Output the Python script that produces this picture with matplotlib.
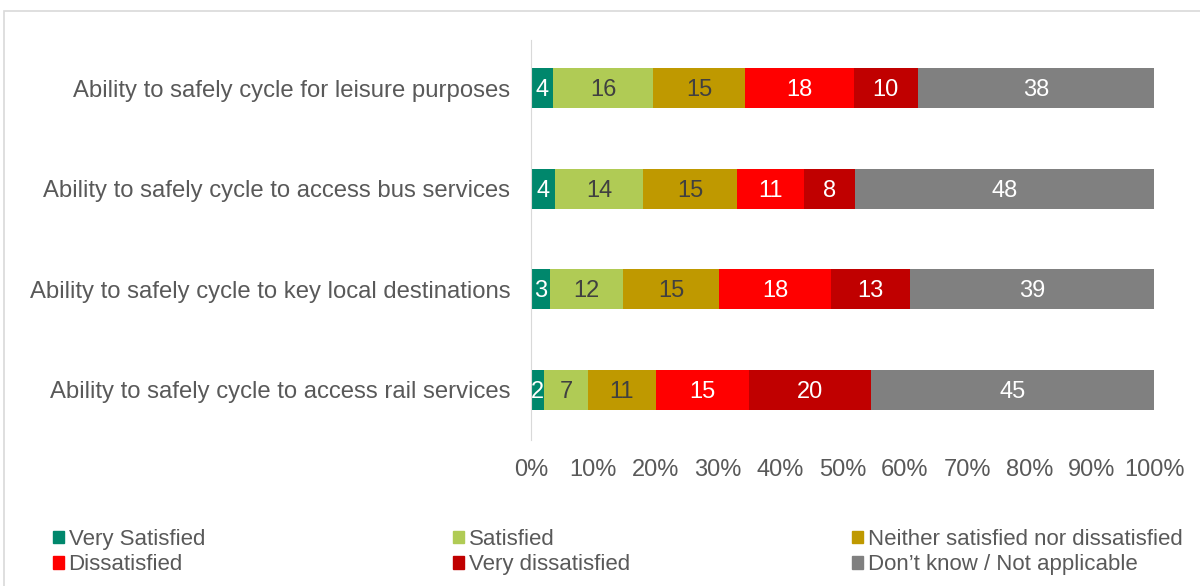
import matplotlib.pyplot as plt
from matplotlib.patches import Rectangle, Patch

plt.rcParams['font.family'] = ['Liberation Sans', 'DejaVu Sans']

categories = ['Ability to safely cycle for leisure purposes',
              'Ability to safely cycle to access bus services',
              'Ability to safely cycle to key local destinations',
              'Ability to safely cycle to access rail services']

series = ['Very Satisfied', 'Satisfied', 'Neither satisfied nor dissatisfied',
          'Dissatisfied', 'Very dissatisfied', 'Don\u2019t know / Not applicable']

# percent per row
very_satisfied = [3.5, 3.9, 3.0, 2.1]
satisfied = [16.1, 14.1, 11.8, 7.0]
neither = [14.7, 15.1, 15.4, 11.0]
dissatisfied = [17.5, 10.7, 18.0, 14.9]
very_dissatisfied = [10.3, 8.2, 12.6, 19.6]
dont_know = [37.9, 48.0, 39.2, 45.4]

colors = ['#00876C', '#B0CB55', '#BF9900', '#FF0000', '#C00000', '#808080']
text_colors = ['white', '#404040', '#404040', 'white', 'white', 'white']

fig = plt.figure(figsize=(12, 5.86), dpi=100)
ax = fig.add_axes([531 / 1200, 1 - 440 / 586, 623 / 1200, 400 / 586])

# light frame round the chart area
fig.patches.append(Rectangle((4 / 1200, -0.1), 1.0, 1.1 - 11 / 586, transform=fig.transFigure,
                             fill=False, edgecolor='#d9d9d9', linewidth=1.2))

data = [very_satisfied, satisfied, neither, dissatisfied, very_dissatisfied, dont_know]
ypos = list(range(len(categories)))
left = [0.0] * len(categories)
for vals, col, tcol in zip(data, colors, text_colors):
    ax.barh(ypos, vals, left=left, height=0.4, color=col)
    for y, l, v in zip(ypos, left, vals):
        ax.text(l + v / 2, y + 0.02, f'{v:.0f}', ha='center', va='center',
                fontsize=17, color=tcol)
    left = [a + b for a, b in zip(left, vals)]

ax.set_xlim(0, 100)
ax.set_ylim(3.5, -0.48)
ax.set_yticks(ypos)
ax.set_yticklabels(categories, fontsize=17.2, color='#595959')
ax.set_xticks(range(0, 101, 10))
ax.set_xticklabels([f'{t}%' for t in range(0, 101, 10)], fontsize=17, color='#595959')
ax.tick_params(axis='both', length=0)
ax.tick_params(axis='x', pad=14)
ax.tick_params(axis='y', pad=15)
for s in ['top', 'right', 'bottom']:
    ax.spines[s].set_visible(False)
ax.spines['left'].set_color('#d9d9d9')

# legend in three columns, each its own legend so columns are evenly spaced
handles = [Patch(color=c) for c in colors]
col_x = [53, 453, 852]
for k, x in enumerate(col_x):
    idx = [k, k + 3]
    leg = fig.legend([handles[i] for i in idx], [series[i] for i in idx],
                     loc='upper left', bbox_to_anchor=(x / 1200, 1 - 529 / 586),
                     frameon=False, fontsize=16, handlelength=0.5, handleheight=0.5,
                     handletextpad=0.2, labelspacing=0.2, borderpad=0, borderaxespad=0)
    for t in leg.get_texts():
        t.set_color('#595959')

fig.savefig('out.png', dpi=100)
